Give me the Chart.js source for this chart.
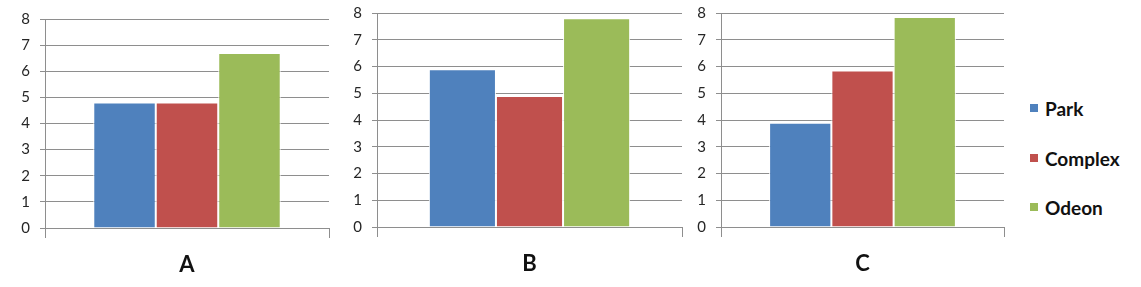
<!DOCTYPE html>
<html>
<head>
<meta charset="utf-8">
<script src="https://cdn.jsdelivr.net/npm/chart.js@4"></script>
<style>
  html, body { margin: 0; padding: 0; background: #fff; }
  body { width: 1141px; height: 287px; position: relative; overflow: hidden; }
  .wrap { position: absolute; top: 0; height: 287px; }
  #legend { position: absolute; left: 1030px; top: 0; font-family: Lato, "Open Sans", sans-serif; font-weight: bold; font-size: 19px; color: #111; }
  .item { position: absolute; left: 0; white-space: nowrap; display: flex; align-items: center; height: 20px; }
  .sw { width: 8px; height: 8px; margin-right: 7px; }
</style>
</head>
<body>
<div class="wrap" style="left:0;width:340px"><canvas id="cA"></canvas></div>
<div class="wrap" style="left:340px;width:350px"><canvas id="cB"></canvas></div>
<div class="wrap" style="left:690px;width:330px"><canvas id="cC"></canvas></div>
<div id="legend"></div>
<script>
// ---- data ----
const panels = ['A', 'B', 'C'];
const seriesNames = ['Park', 'Complex', 'Odeon'];
const park = [4.8, 5.9, 3.9];
const complex = [4.8, 4.9, 5.85];
const odeon = [6.7, 7.8, 7.85];
const yTicks = [0, 1, 2, 3, 4, 5, 6, 7, 8];

const colors = ['#4F81BD', '#C0504D', '#9BBB59'];
const seriesValues = [park, complex, odeon];

// layout per panel (canvas-relative)
const geom = [
  { id: 'cA', yW: 45, top: 19, right: 11, xH: 59 },
  { id: 'cB', yW: 37, top: 13, right: 8, xH: 60 },
  { id: 'cC', yW: 31, top: 13, right: 16, xH: 60 }
];

const gridColor = '#8e8e8e';
const tickFont = { family: 'Lato, "Open Sans", sans-serif', size: 15 };

panels.forEach((p, i) => {
  const g = geom[i];
  new Chart(document.getElementById(g.id), {
    type: 'bar',
    data: {
      labels: [p],
      datasets: seriesNames.map((name, s) => ({
        label: name,
        data: [seriesValues[s][i]],
        backgroundColor: colors[s],
        borderColor: 'rgba(255,255,255,0.95)',
        borderWidth: 1,
        categoryPercentage: 0.66,
        barPercentage: 1.0
      }))
    },
    options: {
      responsive: true,
      maintainAspectRatio: false,
      animation: false,
      events: [],
      layout: { padding: { top: g.top, right: g.right, left: 0, bottom: 0 } },
      plugins: { legend: { display: false }, tooltip: { enabled: false } },
      scales: {
        x: {
          offset: true,
          grid: { display: true, drawOnChartArea: false, drawTicks: true, tickLength: 10, color: gridColor, offset: true },
          border: { display: true, color: gridColor },
          ticks: { padding: 14, color: '#111', font: { family: 'Lato, "Open Sans", sans-serif', size: 22, weight: 'bold' } },
          afterFit: (sc) => { sc.height = g.xH; sc.paddingLeft = 0; sc.paddingRight = 0; }
        },
        y: {
          min: 0, max: 8,
          afterBuildTicks: (sc) => { sc.ticks = yTicks.map(v => ({ value: v })); },
          grid: { color: gridColor, tickLength: 5, drawTicks: true },
          border: { display: true, color: gridColor },
          ticks: { padding: 10, color: '#262626', font: tickFont },
          afterFit: (sc) => { sc.width = g.yW; sc.paddingTop = 0; sc.paddingBottom = 0; }
        }
      }
    }
  });
});

// legend
const leg = document.getElementById('legend');
const legY = [108, 158, 207];
seriesNames.forEach((name, s) => {
  const it = document.createElement('div');
  it.className = 'item';
  it.style.top = (legY[s] - 10) + 'px';
  const sw = document.createElement('span');
  sw.className = 'sw';
  sw.style.background = colors[s];
  it.appendChild(sw);
  it.appendChild(document.createTextNode(name));
  leg.appendChild(it);
});
</script>
</body>
</html>
